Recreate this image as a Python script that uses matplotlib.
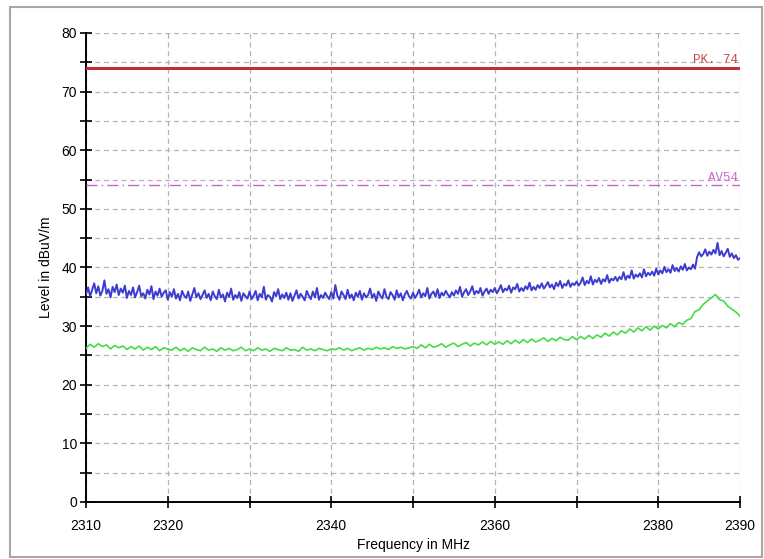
import numpy as np
import matplotlib
matplotlib.use('Agg')
import matplotlib.pyplot as plt
from matplotlib.patches import Rectangle
from matplotlib.ticker import MultipleLocator

# Peak trace, dBuV/m, one reading every 0.25 MHz from 2310 to 2390 MHz
peak_level = [
    35.4, 36.6, 35.1, 36.2, 37.3, 35.6, 36.8, 35.2, 36.0, 37.8, 35.5, 36.3, 34.9, 36.7, 35.8, 37.1, 35.3, 36.4, 35.7, 36.9,
    34.8, 36.0, 35.3, 36.6, 34.9, 35.8, 36.9, 35.1, 35.6, 34.7, 36.2, 35.4, 36.8, 34.6, 35.9, 35.2, 36.4, 35.0, 35.7, 36.1,
    34.5, 35.8, 35.0, 36.3, 34.7, 35.5, 34.4, 36.0, 35.2, 34.8, 35.9, 34.3, 35.4, 36.5, 34.9, 35.6, 34.6, 35.3, 36.1, 34.8,
    35.5, 34.4, 35.9, 35.1, 34.6, 36.2, 34.9, 35.4, 34.2, 35.7, 35.0, 36.4, 34.5, 35.3, 34.8, 35.8, 34.3, 35.6, 35.1, 34.7,
    35.9, 34.6, 35.2, 36.0, 34.4, 35.5, 34.9, 36.7, 34.5, 35.3, 35.0, 34.2, 35.8, 35.1, 36.3, 34.6, 35.4, 34.8, 35.7, 34.5,
    35.6, 34.3, 35.2, 36.1, 34.7, 35.5, 35.0, 34.4, 36.0, 35.2, 34.6, 35.9, 34.9, 36.5, 34.5, 35.3, 34.8, 35.7, 35.1, 34.6,
    35.8, 34.7, 37.0, 35.2, 34.5, 35.9, 35.3, 34.6, 36.2, 34.8, 35.4, 34.4, 35.7, 35.0, 36.0, 34.5, 35.6, 34.9, 35.3, 36.4,
    34.8, 35.5, 34.3, 35.9, 35.2, 34.7, 36.3, 35.0, 34.6, 35.8, 35.3, 34.5, 36.1, 34.9, 35.6, 34.4, 35.4, 36.0, 35.1, 34.7,
    35.7, 34.8, 35.4, 36.2, 34.9, 35.6, 35.1, 36.5, 34.7, 35.5, 35.9, 35.0, 36.3, 34.8, 35.7, 35.2, 36.0, 35.4, 34.9, 35.8,
    35.2, 36.1, 35.5, 36.7, 35.0, 35.8, 36.3, 35.3, 35.9, 36.8, 35.4, 36.0, 35.6, 36.5, 35.2, 35.9, 36.4, 35.5, 36.2, 35.8,
    36.5, 35.6, 36.2, 37.0, 35.8, 36.4, 36.1, 36.9, 35.7, 36.6, 36.3, 37.2, 35.9, 36.5, 36.0, 36.8, 36.3, 37.4, 36.1, 36.7,
    36.2, 37.0, 36.5, 37.3, 36.4, 36.9, 37.5, 36.6, 37.1, 36.3, 37.4, 36.8, 37.7, 36.5, 37.2, 36.9, 37.8, 36.7, 37.3, 37.0,
    37.6, 36.9, 37.4, 38.3, 37.0, 37.7, 37.3, 38.5, 37.1, 37.9, 37.5, 38.2, 37.2, 38.0, 37.6, 38.7, 37.4, 38.1, 37.8, 38.4,
    37.7, 38.4, 38.0, 39.2, 37.9, 38.6, 38.2, 39.5, 38.1, 38.8, 38.4, 39.0, 38.3, 39.7, 38.5, 39.1, 38.7, 39.3, 38.6, 39.8,
    38.8, 39.5, 39.0, 40.1, 39.2, 39.7, 39.1, 40.4, 39.4, 39.9, 39.3, 40.2, 39.6, 40.6, 39.5, 40.0, 39.7, 40.5, 39.8, 41.8,
    42.6, 41.9, 42.3, 43.1, 42.0, 42.7, 42.2, 43.0, 42.4, 44.2, 42.1, 42.8, 41.9, 42.5, 43.2, 41.8, 42.4, 41.6, 42.1, 41.3,
    41.6,
]

# Average trace, dBuV/m, one reading every 0.5 MHz
avg_level = [
    26.2, 26.9, 26.4, 27.0, 26.5, 26.8, 26.1, 26.7, 26.3, 26.6, 26.0,
    26.5, 26.1, 26.6, 25.9, 26.4, 26.0, 26.5, 25.8, 26.3, 26.1,
    25.9, 26.4, 25.8, 26.2, 25.7, 26.3, 26.0, 25.8, 26.4, 25.9,
    26.1, 25.7, 26.3, 25.9, 26.2, 25.8, 26.0, 26.4, 25.8, 26.1,
    25.8, 26.3, 25.9, 26.1, 25.7, 26.2, 26.0, 25.8, 26.3, 25.9,
    26.0, 25.7, 26.4, 25.9, 26.1, 25.8, 26.2, 26.0, 25.8, 26.1,
    26.0, 26.3, 25.9, 26.2, 25.8, 26.1, 26.3, 25.9, 26.2, 26.0,
    26.4, 26.1, 26.3, 26.0, 26.5, 26.2, 26.4, 26.1, 26.3, 26.5,
    26.2, 26.8, 26.3, 26.9, 26.4, 26.6, 27.0, 26.4, 26.8, 27.1,
    26.5, 26.9, 27.2, 26.6, 27.1, 26.8, 27.3, 26.8, 27.4, 26.9,
    27.3, 26.9, 27.5, 27.0, 27.6, 27.1, 27.7, 27.2, 27.8, 27.3,
    27.6, 28.0, 27.4, 27.9, 27.5, 28.1, 27.7, 27.6, 28.2, 27.7,
    28.2, 27.8, 28.4, 27.9, 28.5, 28.1, 28.8, 28.3, 29.0, 28.5,
    29.2, 28.8, 29.5, 29.0, 29.7, 29.2, 29.9, 29.3, 30.0, 29.5,
    30.1, 29.7, 30.4, 29.9, 30.6, 30.3, 31.0, 31.3, 32.5, 32.8,
    33.7, 34.3, 34.8, 35.4, 34.5, 34.3, 33.4, 32.9, 32.4, 31.7,
]

freq_start, freq_stop = 2310, 2390
pk_limit = 74
av_limit = 54
x_tick_labels = ['2310', '2320', '2340', '2360', '2380', '2390']

freq_pk = np.linspace(freq_start, freq_stop, len(peak_level))
freq_av = np.linspace(freq_start, freq_stop, len(avg_level))

fig = plt.figure(figsize=(7.64, 5.59), dpi=100)
plt.rcParams['font.family'] = ['Liberation Sans', 'DejaVu Sans']
ax = fig.add_axes([0.1126, 0.102, 0.8560, 0.839])

# grey frame round the whole chart
fig.patches.append(Rectangle((10 / 764, 2 / 559), 752 / 764, 550 / 559,
                             transform=fig.transFigure, fill=False,
                             edgecolor='#a8a8a8', linewidth=1.5, zorder=0))

# limit lines
ax.axhline(pk_limit, color='#c0303a', linewidth=2.2, zorder=3)
ax.axhline(av_limit, color='#d060d0', linewidth=1.0,
           linestyle=(0, (8, 3, 1, 3)), zorder=3)
ax.text(freq_stop - 0.3, pk_limit + 0.3, 'PK. 74', color='#c84848',
        family='Liberation Mono', fontsize=9, ha='right', va='bottom')
ax.text(freq_stop - 0.3, av_limit + 0.3, 'AV54', color='#cc66cc',
        family='Liberation Mono', fontsize=9, ha='right', va='bottom')

ax.plot(freq_pk, peak_level, color='#3c3cd0', linewidth=1.4, zorder=4)
ax.plot(freq_av, avg_level, color='#46dc46', linewidth=1.2, zorder=4)

ax.set_xlim(freq_start, freq_stop)
ax.set_ylim(0, 80)

ax.xaxis.set_major_locator(MultipleLocator(10))
ax.xaxis.set_major_formatter(plt.FuncFormatter(
    lambda v, p: str(int(round(v))) if str(int(round(v))) in x_tick_labels else ''))
ax.yaxis.set_major_locator(MultipleLocator(10))
ax.yaxis.set_minor_locator(MultipleLocator(5))

ax.tick_params(axis='both', which='both', direction='inout', length=9,
               width=1.2, labelsize=10, colors='black')
ax.tick_params(axis='x', pad=8)
ax.tick_params(axis='y', pad=2)

ax.grid(True, which='both', color='#b4b4b4', linestyle=(0, (4, 3)),
        linewidth=0.9)
for s in ['top', 'right']:
    ax.spines[s].set_visible(False)
for s in ['left', 'bottom']:
    ax.spines[s].set_linewidth(1.4)

ax.set_xlabel('Frequency in MHz', fontsize=10, labelpad=3)
ax.set_ylabel('Level in dBuV/m', fontsize=10, labelpad=6)

fig.savefig('out.png', dpi=100)
